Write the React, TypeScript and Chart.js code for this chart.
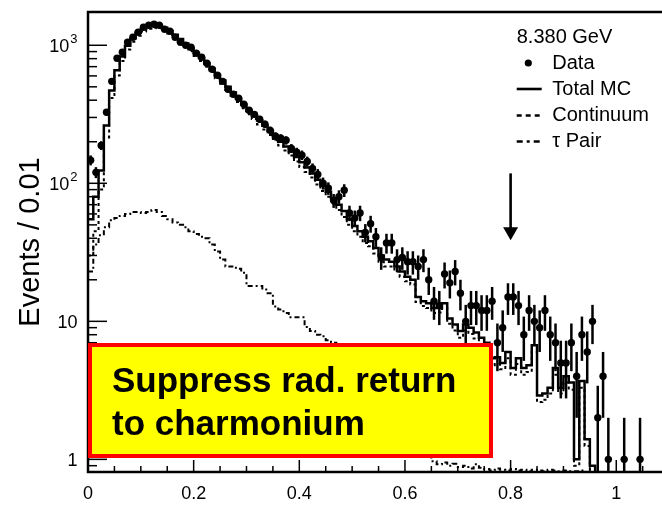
import React, { useEffect, useRef } from "react";
import { Chart, registerables } from "chart.js";

Chart.register(...registerables);

// ---------------- data (bins of width 0.01 starting at 0) ----------------
const BIN_WIDTH = 0.01;

const dataCounts = [
  147, 120, 188, 327, 548, 805, 890, 1051, 1143, 1243,
  1350, 1396, 1420, 1396, 1306, 1263, 1143, 1051, 1000, 967,
  875, 818, 741, 670, 606, 548, 480, 442, 413, 374,
  338, 316, 291, 268, 242, 219, 212, 205, 179, 168,
  160, 144, 128, 116, 100, 92, 75, 80, 89, 61,
  56, 61, 44, 51, 41, 29, 37, 37, 28, 29,
  27, 27, 25, 28, 20, 14, 13, 22, 19, 23,
  16, 10, 13, 13, 12, 12, 14, 7, 9, 15,
  15, 13, 8, 12, 10, 9, 12, 8, 7, 5,
  5, 7, 4, 8, 6, 10, 2, 4, 1, 0,
  0, 1, 0, 0, 1,
];

const totalMC = [
  55, 80, 124, 262, 470, 660, 830, 990, 1120, 1230,
  1320, 1380, 1400, 1390, 1340, 1270, 1190, 1110, 1030, 950,
  880, 810, 740, 675, 610, 555, 500, 455, 412, 372,
  335, 310, 285, 262, 240, 218, 200, 185, 170, 155,
  142, 130, 118, 106, 96, 87, 78, 70, 63, 55,
  49, 45, 41, 38, 34, 30, 28, 27, 25, 23,
  21, 20, 15, 14, 13.5, 12.5, 12.5, 13.5, 10.5, 9.5,
  8.5, 9.5, 9, 8.3, 7.6, 7, 5.4, 5.5, 5, 6,
  4.6, 5.4, 4.6, 4.8, 6.7, 2.9, 3, 3.3, 4.6, 3.3,
  4, 3.6, 1, 3.7, 1.4, 0.9, 0, 0, 0, 0,
  0, 0, 0, 0, 0,
];

const continuum = [
  30, 45, 90, 215, 415, 605, 770, 930, 1060, 1170,
  1260, 1320, 1340, 1330, 1280, 1215, 1140, 1060, 980, 905,
  837, 770, 700, 640, 578, 527, 475, 430, 388, 350,
  317, 292, 267, 245, 224, 205, 188, 173, 159, 144,
  131, 121, 110, 98, 88, 80, 71, 64, 57, 50,
  45, 41, 37, 35, 31, 27, 25, 25, 23, 21,
  19.5, 18.5, 13.8, 12.9, 12.5, 11.5, 11.6, 12.5, 9.6, 8.6,
  7.6, 8.6, 8.1, 7.5, 6.8, 6.2, 4.8, 4.9, 4.5, 5.4,
  4.1, 4.9, 4.1, 4.3, 6.0, 2.6, 2.7, 3.0, 4.1, 3.0,
  3.6, 3.2, 0.9, 3.3, 1.25, 0.8, 0, 0, 0, 0,
  0, 0, 0, 0, 0,
];

const tauPair = [
  23, 36, 42, 48, 54, 56, 58, 60, 62, 62,
  61, 62, 64, 62, 58, 55, 52, 50, 48, 45,
  43, 41, 40, 36, 32, 28, 25, 25, 24, 22.5,
  18, 18, 18, 17, 16, 12.8, 12.2, 11.5, 10.7, 10.7,
  10.7, 9.1, 8.5, 8.0, 7.8, 7.3, 7.0, 6.5, 6, 5.5,
  5, 4.5, 4, 3.6, 3.2, 2.9, 2.6, 2.3, 2.1, 1.9,
  1.7, 1.5, 1.35, 1.2, 1.05, 0.97, 0.92, 0.95, 0.9, 0.93,
  0.88, 0.9, 0.86, 0.92, 0.87, 0.85, 0.83, 0.86, 0.84, 0.83,
  0.85, 0.83, 0.84, 0.82, 0.84, 0.83, 0.82, 0.84, 0.83, 0.82,
  0.83, 0.82, 0.82, 0.83, 0, 0, 0, 0, 0, 0,
  0, 0, 0, 0, 0,
];

const xTickValues = [0, 0.2, 0.4, 0.6, 0.8, 1.0];
const xTickLabels = ["0", "0.2", "0.4", "0.6", "0.8", "1"];
const yTickValues = [1, 10, 100, 1000];
const yTickBases = ["1", "10", "10", "10"];
const yTickExps = ["", "", "2", "3"];

const yTitle = "Events / 0.01";
const legendTitle = "8.380 GeV";
const legendLabels = ["Data", "Total MC", "Continuum", "\u03C4 Pair"];
const boxLines = ["Suppress rad. return", "to charmonium"];

const arrowX = 0.8;
const arrowTopValue = 118;
const arrowTipValue = 38.6;

const X_MIN = 0;
const X_MAX = 1.079;
const Y_MIN = 0.81;
const Y_MAX = 1742;

const FONT = '"Liberation Sans", Arial, Helvetica, sans-serif';

// ---------------- helpers ----------------
function histPoints(values: number[]) {
  const pts = values.map((v, i) => ({ x: i * BIN_WIDTH, y: v > 0 ? v : 1e-3 }));
  const last = values[values.length - 1];
  pts.push({ x: values.length * BIN_WIDTH, y: last > 0 ? last : 1e-3 });
  return pts;
}

const dataPoints = dataCounts
  .map((n, i) => ({ x: (i + 0.5) * BIN_WIDTH, y: n }))
  .filter((p) => p.y > 0);

const decorPlugin = {
  id: "decor",
  afterDatasetsDraw(chart: any) {
    const ctx: CanvasRenderingContext2D = chart.ctx;
    const area = chart.chartArea;
    const xs = chart.scales.x;
    const ys = chart.scales.y;

    // error bars
    ctx.save();
    ctx.beginPath();
    ctx.rect(area.left, area.top, area.right - area.left, area.bottom - area.top);
    ctx.clip();
    ctx.strokeStyle = "#000";
    ctx.lineWidth = 2.5;
    dataPoints.forEach((p) => {
      const e = Math.sqrt(p.y);
      const px = xs.getPixelForValue(p.x);
      const lo = p.y - e;
      const yHi = ys.getPixelForValue(p.y + e);
      const yLo = lo > 0 ? ys.getPixelForValue(lo) : area.bottom;
      ctx.beginPath();
      ctx.moveTo(px, yHi);
      ctx.lineTo(px, yLo);
      ctx.stroke();
    });
    ctx.restore();

    ctx.save();
    // frame
    ctx.strokeStyle = "#000";
    ctx.lineWidth = 2.5;
    ctx.beginPath();
    ctx.moveTo(area.right + 5, area.top);
    ctx.lineTo(area.left, area.top);
    ctx.lineTo(area.left, area.bottom);
    ctx.lineTo(area.right + 5, area.bottom);
    ctx.stroke();

    // x ticks
    ctx.lineWidth = 1.5;
    for (let k = 1; k * 0.05 <= X_MAX; k++) {
      const v = k * 0.05;
      const major = k % 4 === 0;
      const px = xs.getPixelForValue(v);
      ctx.beginPath();
      ctx.moveTo(px, area.bottom);
      ctx.lineTo(px, area.bottom - (major ? 12 : 6));
      ctx.stroke();
    }
    // y ticks
    const decades = [0.1, 1, 10, 100, 1000];
    decades.forEach((d) => {
      for (let m = 1; m <= 9; m++) {
        const v = m * d;
        if (v < Y_MIN || v > Y_MAX) continue;
        const py = ys.getPixelForValue(v);
        ctx.beginPath();
        ctx.moveTo(area.left, py);
        ctx.lineTo(area.left + (m === 1 ? 19 : 9), py);
        ctx.stroke();
      }
    });

    // y tick labels
    ctx.fillStyle = "#000";
    ctx.textBaseline = "alphabetic";
    yTickValues.forEach((v, i) => {
      const py = ys.getPixelForValue(v);
      const exp = yTickExps[i];
      ctx.font = `13px ${FONT}`;
      const expW = exp ? ctx.measureText(exp).width + 1 : 0;
      const right = 77.5;
      ctx.font = `18px ${FONT}`;
      ctx.textAlign = "right";
      ctx.fillText(yTickBases[i], right - expW, py + 6.5);
      if (exp) {
        ctx.font = `13px ${FONT}`;
        ctx.textAlign = "right";
        ctx.fillText(exp, right, py - 2);
      }
    });

    // y title
    ctx.save();
    ctx.translate(38.5, (area.top + area.bottom) / 2);
    ctx.rotate(-Math.PI / 2);
    ctx.font = `29px ${FONT}`;
    ctx.textAlign = "center";
    ctx.fillText(yTitle, 0, 0);
    ctx.restore();

    // legend
    const lx = 516.7;
    const tx = 552.3;
    ctx.font = `20px ${FONT}`;
    ctx.textAlign = "left";
    ctx.fillText(legendTitle, lx, 43.3);
    const rows = [69.3, 95, 120.7, 146.7];
    legendLabels.forEach((lab, i) => ctx.fillText(lab, tx, rows[i]));
    // data marker
    ctx.beginPath();
    ctx.arc(528.3, 63, 3.6, 0, Math.PI * 2);
    ctx.fill();
    ctx.lineWidth = 2.6;
    ctx.beginPath();
    ctx.moveTo(lx, 89);
    ctx.lineTo(541.7, 89);
    ctx.stroke();
    ctx.setLineDash([5, 4]);
    ctx.beginPath();
    ctx.moveTo(lx, 115.5);
    ctx.lineTo(541.7, 115.5);
    ctx.stroke();
    ctx.setLineDash([6, 4, 3, 4]);
    ctx.beginPath();
    ctx.moveTo(lx, 141.5);
    ctx.lineTo(541.7, 141.5);
    ctx.stroke();
    ctx.setLineDash([]);

    // arrow
    const ax = xs.getPixelForValue(arrowX);
    const aTop = ys.getPixelForValue(arrowTopValue);
    const aTip = ys.getPixelForValue(arrowTipValue);
    ctx.lineWidth = 2.6;
    ctx.beginPath();
    ctx.moveTo(ax, aTop);
    ctx.lineTo(ax, aTip - 8);
    ctx.stroke();
    ctx.beginPath();
    ctx.moveTo(ax - 7.5, aTip - 13);
    ctx.lineTo(ax + 7.5, aTip - 13);
    ctx.lineTo(ax, aTip);
    ctx.closePath();
    ctx.fill();

    // annotation box
    const bx = 88, by = 343, bw = 405, bh = 115;
    ctx.fillStyle = "#ffff00";
    ctx.fillRect(bx, by, bw, bh);
    ctx.strokeStyle = "#ff0000";
    ctx.lineWidth = 4;
    ctx.strokeRect(bx + 2, by + 2, bw - 4, bh - 4);
    ctx.fillStyle = "#000";
    ctx.font = `bold 35px ${FONT}`;
    ctx.textAlign = "left";
    ctx.fillText(boxLines[0], 112, 391.7);
    ctx.fillText(boxLines[1], 112, 435);
    ctx.restore();
  },
};

export default function App() {
  const ref = useRef<HTMLCanvasElement>(null);

  useEffect(() => {
    if (!ref.current) return;
    const chart = new Chart(ref.current, {
      type: "line",
      data: {
        datasets: [
          {
            label: "Data",
            data: dataPoints,
            showLine: false,
            pointRadius: 3.7,
            pointBackgroundColor: "#000",
            pointBorderColor: "#000",
            pointBorderWidth: 0,
            order: 0,
          },
          {
            label: "Total MC",
            data: histPoints(totalMC),
            stepped: true,
            borderColor: "#000",
            borderWidth: 2.5,
            pointRadius: 0,
            fill: false,
            order: 1,
          },
          {
            label: "Continuum",
            data: histPoints(continuum),
            stepped: true,
            borderColor: "#000",
            borderWidth: 2,
            borderDash: [3, 3],
            pointRadius: 0,
            fill: false,
            order: 2,
          },
          {
            label: "\u03C4 Pair",
            data: histPoints(tauPair),
            stepped: true,
            borderColor: "#000",
            borderWidth: 2,
            borderDash: [5, 3, 2, 3],
            pointRadius: 0,
            fill: false,
            order: 3,
          },
        ] as any,
      },
      options: {
        animation: false,
        responsive: false,
        devicePixelRatio: 1,
        layout: { padding: { top: 12, right: 0, left: 0, bottom: 0 } },
        plugins: { legend: { display: false }, tooltip: { enabled: false } },
        scales: {
          x: {
            type: "linear",
            min: X_MIN,
            max: X_MAX,
            grid: { display: false, drawTicks: false },
            border: { display: false },
            afterBuildTicks: (scale: any) => {
              scale.ticks = xTickValues.map((v) => ({ value: v }));
            },
            afterFit: (scale: any) => {
              scale.height = 42;
            },
            ticks: {
              autoSkip: false,
              maxRotation: 0,
              padding: 11,
              color: "#000",
              font: { family: FONT, size: 18 },
              callback: (_v: any, i: number) => xTickLabels[i],
            },
          },
          y: {
            type: "logarithmic",
            min: Y_MIN,
            max: Y_MAX,
            grid: { display: false, drawTicks: false },
            border: { display: false },
            ticks: { display: false },
            afterFit: (scale: any) => {
              scale.width = 88;
            },
          },
        },
      } as any,
      plugins: [decorPlugin],
    });
    return () => chart.destroy();
  }, []);

  return (
    <div
      style={{
        position: "absolute",
        left: 0,
        top: 0,
        width: 662,
        height: 514,
        background: "#fff",
        overflow: "hidden",
      }}
    >
      <canvas ref={ref} width={662} height={514} style={{ display: "block", width: 662, height: 514 }} />
    </div>
  );
}
